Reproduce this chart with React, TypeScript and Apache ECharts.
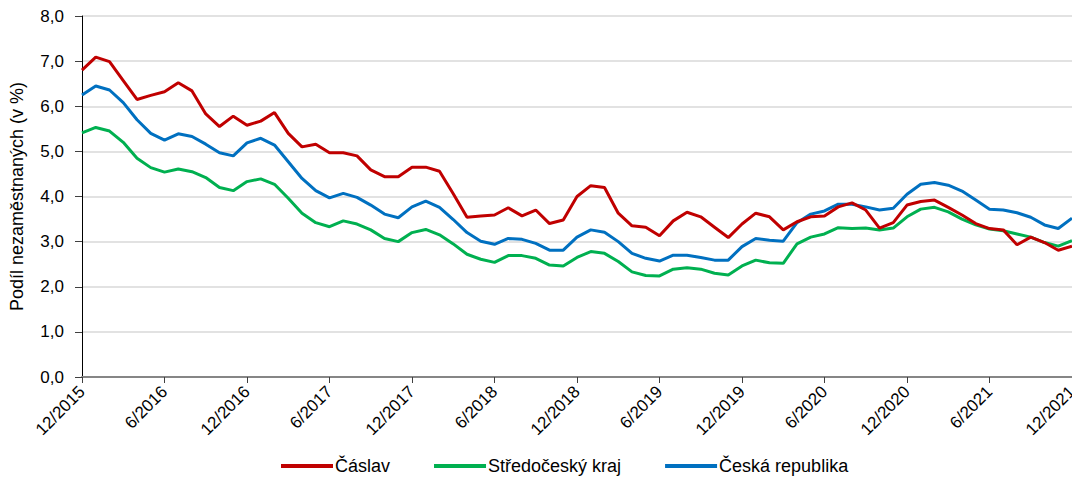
import React, { useEffect, useRef } from "react";
import * as echarts from "echarts";

const startYear = 2015;
const startMonth = 12;
const monthCount = 73;

const categories: string[] = [];
for (let k = 0; k < monthCount; k++) {
  const m0 = startMonth - 1 + k;
  const y = startYear + Math.floor(m0 / 12);
  const m = (m0 % 12) + 1;
  categories.push(`${m}/${y}`);
}

const caslav = [
  6.80, 7.09, 6.99, 6.57, 6.15, 6.24, 6.32, 6.52, 6.34, 5.83, 5.55, 5.78,
  5.58, 5.67, 5.86, 5.40, 5.10, 5.16, 4.97, 4.97, 4.90, 4.59, 4.44, 4.44,
  4.65, 4.65, 4.56, 4.06, 3.54, 3.57, 3.59, 3.75, 3.57, 3.70, 3.40, 3.48,
  4.00, 4.24, 4.20, 3.63, 3.35, 3.32, 3.13, 3.46, 3.65, 3.55, 3.32, 3.09,
  3.39, 3.63, 3.55, 3.26, 3.44, 3.55, 3.57, 3.77, 3.86, 3.70, 3.30, 3.42,
  3.81, 3.89, 3.92, 3.76, 3.59, 3.40, 3.29, 3.26, 2.93, 3.10, 2.98, 2.81, 2.90,
];

const stredocesky = [
  5.41, 5.53, 5.45, 5.20, 4.85, 4.64, 4.54, 4.61, 4.55, 4.42, 4.20, 4.13,
  4.33, 4.39, 4.27, 3.96, 3.63, 3.42, 3.33, 3.46, 3.39, 3.26, 3.07, 3.00,
  3.20, 3.27, 3.15, 2.95, 2.72, 2.61, 2.54, 2.69, 2.69, 2.63, 2.48, 2.46,
  2.65, 2.78, 2.74, 2.56, 2.33, 2.25, 2.24, 2.39, 2.42, 2.39, 2.30, 2.26,
  2.46, 2.59, 2.53, 2.52, 2.95, 3.10, 3.17, 3.31, 3.29, 3.30, 3.26, 3.30,
  3.55, 3.72, 3.76, 3.66, 3.50, 3.37, 3.28, 3.24, 3.17, 3.10, 2.98, 2.90, 3.02,
];

const ceskaRepublika = [
  6.25, 6.45, 6.36, 6.08, 5.70, 5.40, 5.25, 5.39, 5.33, 5.16, 4.97, 4.90,
  5.19, 5.29, 5.14, 4.77, 4.40, 4.13, 3.97, 4.07, 3.98, 3.81, 3.61, 3.53,
  3.77, 3.90, 3.76, 3.49, 3.20, 3.01, 2.94, 3.07, 3.05, 2.96, 2.81, 2.81,
  3.10, 3.26, 3.21, 3.00, 2.74, 2.63, 2.57, 2.70, 2.70, 2.65, 2.59, 2.59,
  2.89, 3.07, 3.03, 3.01, 3.42, 3.61, 3.68, 3.83, 3.83, 3.77, 3.70, 3.74,
  4.05, 4.27, 4.31, 4.25, 4.12, 3.92, 3.72, 3.70, 3.64, 3.54, 3.37, 3.29, 3.52,
];

const seriesNames = ["Čáslav", "Středočeský kraj", "Česká republika"];
const seriesColors = ["#C00000", "#00B050", "#0070C0"];
const yAxisName = "Podíl nezaměstnaných (v %)";

const FONT = '"Liberation Sans", Arial, sans-serif';

export default function App() {
  const ref = useRef<HTMLDivElement>(null);

  useEffect(() => {
    if (!ref.current) return;
    const chart = echarts.init(ref.current, null, { renderer: "svg" });
    const dataSets = [caslav, stredocesky, ceskaRepublika];
    chart.setOption({
      animation: false,
      textStyle: { fontFamily: FONT },
      grid: {
        left: 82,
        right: 0,
        top: 16,
        bottom: 100,
        containLabel: false,
        outerBoundsMode: "none",
      },
      legend: {
        left: 276,
        top: 452,
        itemWidth: 52,
        itemHeight: 4,
        itemGap: 44,
        icon: "rect",
        textStyle: { fontFamily: FONT, fontSize: 18, color: "#000", padding: [0, 0, 0, -3] },
        data: seriesNames,
      },
      xAxis: {
        type: "category",
        data: categories,
        boundaryGap: false,
        axisLine: { lineStyle: { color: "#868686", width: 2 } },
        axisTick: { show: true, interval: 5, length: 6, lineStyle: { color: "#404040", width: 1 } },
        axisLabel: {
          interval: 5,
          rotate: 45,
          margin: 12,
          fontSize: 17,
          color: "#000",
          fontFamily: FONT,
          hideOverlap: false,
        },
        splitLine: { show: false },
      },
      yAxis: {
        type: "value",
        min: 0,
        max: 8,
        interval: 1,
        name: yAxisName,
        nameLocation: "middle",
        nameGap: 56,
        nameRotate: 90,
        nameTextStyle: { fontSize: 18, color: "#000", fontFamily: FONT },
        axisLine: { show: true, lineStyle: { color: "#000", width: 1 } },
        axisTick: { show: true, inside: false, length: 7, lineStyle: { color: "#404040" } },
        axisLabel: {
          margin: 18,
          fontSize: 17,
          color: "#000",
          fontFamily: FONT,
          formatter: (v: number) => v.toFixed(1).replace(".", ","),
        },
        splitLine: { show: true, lineStyle: { color: "#D9D9D9", width: 1.5 } },
      },
      series: seriesNames.map((name, i) => ({
        name,
        type: "line",
        data: dataSets[i],
        symbol: "none",
        lineStyle: { color: seriesColors[i], width: 3 },
        itemStyle: { color: seriesColors[i] },
        z: i === 0 ? 4 : i === 2 ? 3 : 2,
      })),
    });
    return () => chart.dispose();
  }, []);

  return (
    <div
      ref={ref}
      style={{ position: "fixed", left: 0, top: 0, width: "1072px", height: "477px", background: "#fff" }}
    />
  );
}
